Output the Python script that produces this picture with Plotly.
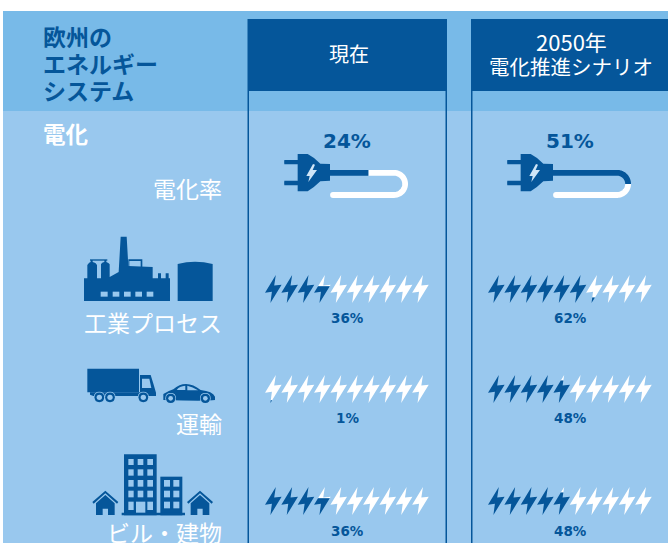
import math
import re
import plotly.graph_objects as go

# Chart content
header_title = ["欧州の", "エネルギー", "システム"]
section_title = "電化"
scenario_labels = [["現在"], ["2050年", "電化推進シナリオ"]]
electrification_rate = [24, 51]
sector_labels = ["工業プロセス", "運輸", "ビル・建物"]
sector_today = [36, 1, 36]
sector_2050 = [62, 48, 48]

# Palette
BAND = "#78bae8"
BODY = "#99c8ee"
DARK = "#05569a"
WHITE = "#ffffff"
PALE = "#cfe5f7"
CJK = "Noto Sans CJK JP"

W, H = 668, 543
COL_X = [248, 471.5]
COL_SHIFT = [-223.0, 0.0]
ROW_BOLT_TOP = [275, 375, 487]
ROW_PCT_Y = [318, 418, 531]
ROW_LABEL_Y = [321, 422, 531]
BOLT_X0 = [265, 488]
BOLT_PITCH = 16.35
BOLT_COUNT = 10

# One lightning bolt in its own unit box
BOLT = [(10.8, 0), (0, 17.8), (6.9, 16.8), (5.4, 28), (16.6, 9.8), (9.2, 10.6)]
BOLT_H = 28


def clip_below(poly, level):
    """Keep the part of a polygon lying at or below the given y level."""
    out = []
    for i, a in enumerate(poly):
        b = poly[(i + 1) % len(poly)]
        ina, inb = a[1] >= level, b[1] >= level
        if ina:
            out.append(a)
        if ina != inb:
            t = (level - a[1]) / (b[1] - a[1])
            out.append((a[0] + t * (b[0] - a[0]), level))
    return out


def clip_above(poly, level):
    flipped = [(x, -y) for x, y in poly]
    return [(x, -y) for x, y in clip_below(flipped, -level)]


def append_poly(xs, ys, poly, ox, oy):
    if len(poly) < 3:
        return
    for x, y in poly:
        xs.append(x + ox)
        ys.append(y + oy)
    xs.append(poly[0][0] + ox)
    ys.append(poly[0][1] + oy)
    xs.append(None)
    ys.append(None)


def bolt_row(pct, x0, top):
    """Ten bolts, each one tenth of the share, filling from the bottom up."""
    dx, dy, wx, wy = [], [], [], []
    for i in range(BOLT_COUNT):
        frac = max(0.0, min(1.0, pct / 10 - i))
        level = BOLT_H * (1 - frac)
        ox = x0 + i * BOLT_PITCH
        append_poly(dx, dy, clip_below(BOLT, level), ox, top)
        append_poly(wx, wy, clip_above(BOLT, level), ox, top)
    return dx, dy, wx, wy


fig = go.Figure()


def fill_trace(xs, ys, color):
    fig.add_trace(go.Scatter(x=xs, y=ys, mode="lines", fill="toself", fillcolor=color,
                             line=dict(width=0, color=color), hoverinfo="skip",
                             showlegend=False))


for col, values in enumerate([sector_today, sector_2050]):
    for row, pct in enumerate(values):
        dx, dy, wx, wy = bolt_row(pct, BOLT_X0[col], ROW_BOLT_TOP[row])
        fill_trace(wx, wy, WHITE)
        fill_trace(dx, dy, DARK)

# Power cable: straight run, half circle, straight run back
CABLE_X0, CABLE_X1, CABLE_END = 553.0, 617.0, 556.0
CABLE_TOP, CABLE_BOT = 172.8, 195.0
CABLE_R = (CABLE_BOT - CABLE_TOP) / 2
CABLE_STEPS = 240


def cable_point(s):
    run1 = CABLE_X1 - CABLE_X0
    arc = math.pi * CABLE_R
    if s <= run1:
        return CABLE_X0 + s, CABLE_TOP
    if s <= run1 + arc:
        a = (s - run1) / CABLE_R
        return CABLE_X1 + CABLE_R * math.sin(a), CABLE_TOP + CABLE_R * (1 - math.cos(a))
    return CABLE_X1 - (s - run1 - arc), CABLE_BOT


def cable_len():
    return (CABLE_X1 - CABLE_X0) + math.pi * CABLE_R + (CABLE_X1 - CABLE_END)


def cable_trace(xs, ys, color):
    fig.add_trace(go.Scatter(x=xs, y=ys, mode="lines",
                             line=dict(color=color, width=5.8, simplify=False),
                             hoverinfo="skip", showlegend=False))


for col, pct in enumerate(electrification_rate):
    total = cable_len()
    cut = total * pct / 100
    shift = COL_SHIFT[col]
    wx, wy, dx, dy = [], [], [], []
    for i in range(CABLE_STEPS + 1):
        x, y = cable_point(cut + (total - cut) * i / CABLE_STEPS)
        wx.append(x + shift)
        wy.append(y)
        x, y = cable_point(cut * i / CABLE_STEPS)
        dx.append(x + shift)
        dy.append(y)
    cable_trace(wx, wy, WHITE)
    cable_trace(dx, dy, DARK)
    # rounded tail of the cable
    fig.add_trace(go.Scatter(x=[wx[-1]], y=[wy[-1]], mode="markers",
                             marker=dict(color=WHITE, size=5.8, line=dict(width=0)),
                             hoverinfo="skip", showlegend=False))

shapes = []


def rect(x0, y0, x1, y1, color):
    shapes.append(dict(type="rect", xref="x", yref="y", x0=x0, y0=y0, x1=x1, y1=y1,
                       fillcolor=color, line=dict(width=0), layer="below"))


def icon(path, ox, oy, color=DARK, scale=1 / 3):
    """Place an icon path, drawn in a 3x grid, at a pixel offset."""
    out = []
    is_x = True
    for tok in re.findall(r"[A-Za-z]|-?\d+\.?\d*", path):
        if tok.isalpha():
            out.append(tok)
            is_x = True
        else:
            v = float(tok) * scale + (ox if is_x else oy)
            out.append(f"{v:.2f}")
            is_x = not is_x
    shapes.append(dict(type="path", xref="x", yref="y", path=" ".join(out),
                       fillcolor=color, line=dict(width=0), layer="above"))


def box(x0, y0, x1, y1):
    return f"M{x0} {y0} L{x1} {y0} L{x1} {y1} L{x0} {y1} Z"


def disc(cx, cy, r):
    return (f"M{cx - r} {cy} Q{cx - r} {cy - r} {cx} {cy - r} Q{cx + r} {cy - r} {cx + r} {cy} "
            f"Q{cx + r} {cy + r} {cx} {cy + r} Q{cx - r} {cy + r} {cx - r} {cy} Z")


# Background bands and scenario columns
rect(3, 11, W, 111, BAND)
rect(3, 111, W, H, BODY)
for x0, x1 in [(COL_X[0], 447), (COL_X[1], W + 2)]:
    rect(x0 - 0.5, 19, x1, 91, DARK)
    rect(x0 - 0.5, 91, x0 + 1, H, DARK)
    rect(x1 - 1.5, 91, x1, H, DARK)

# Plug, one per scenario column
PLUG = ("M520 480 L560 480 L560 462 L590 462 Q610 472 628 491 L657 492 L657 542 L628 544 "
        "Q610 562 590 574 L560 574 L560 556 L520 556 Q519 549 520 542 L560 542 L560 493 "
        "L520 493 Q519 486 520 480 Z")
PLUG_BOLT = "M606 492 L586 528 L596 528 L592 546 L618 510 L605 510 L612 494 Z"
for shift in COL_SHIFT:
    icon(PLUG, 334 + shift, 0)
    icon(PLUG_BOLT, 334 + shift, 0, PALE)

# Factory and storage tank
FX, FY = 60, 230
icon("M72 213 L72 145 L82 145 L82 105 Q88 96 92 96 L92 90 L98 90 L98 96 Q108 98 111 105 L111 145 "
     "L123 145 L123 102 Q128 96 133 96 L133 90 L139 90 L139 96 Q146 98 149 103 L149 141 L176 126 "
     "L182 20 L200 20 L205 108 L278 111 L278 145 L294 145 L294 130 L303 130 L303 145 L317 145 "
     "L317 130 L326 130 L326 145 L330 145 L330 213 Z", FX, FY)
icon("M90 88 L142 88 L142 92 L90 92 Z", FX, FY)
icon("M205 88 L247 88 L247 112 L242 112 L242 93 L208 93 L208 112 L205 112 Z", FX, FY)
for x0, x1 in [(122, 143), (158, 178), (192, 212), (226, 246), (260, 280)]:
    icon(box(x0, 185, x1, 200), FX, FY, BODY)
icon("M353 213 L353 102 Q405 88 458 102 L458 213 Z", FX, FY)

# Truck and car
TX, TY = 60, 360
icon(box(82, 26, 237, 97), TX, TY)
icon("M90 97 L240 97 L240 45 L272 45 Q280 70 288 98 L288 108 L100 108 L90 104 Z", TX, TY)
icon("M246 56 L268 56 L274 84 L246 84 Z", TX, TY, BODY)
for cx in [118, 150, 250]:
    icon(disc(cx, 112, 16.5), TX, TY, BODY)
    icon(disc(cx, 112, 14.5), TX, TY)
    icon(disc(cx, 112, 8), TX, TY, BODY)
icon("M310 120 L310 102 Q322 94 340 88 Q358 72 378 72 Q400 72 422 90 Q458 94 465 110 L465 120 "
     "Q440 124 310 120 Z", TX, TY)
icon("M350 90 Q358 78 376 77 L376 90 Z", TX, TY, BODY)
icon("M382 77 Q398 80 414 91 L382 91 Z", TX, TY, BODY)
for cx in [332, 436]:
    icon(disc(cx, 115, 16), TX, TY, BODY)
    icon(disc(cx, 115, 14), TX, TY)
    icon(disc(cx, 115, 7), TX, TY, BODY)

# Office towers and houses
icon(box(192, 283, 290, 466), TX, TY)
icon(box(301, 350, 367, 466), TX, TY)
icon(box(185, 458, 375, 466), TX, TY)
for cx0, cx1 in [(205, 221), (233, 250), (262, 279)]:
    for y0, y1 in [(297, 315), (328, 347), (360, 380), (392, 412)]:
        icon(box(cx0, y0, cx1, y1), TX, TY, BODY)
for cx0, cx1 in [(205, 221), (262, 279)]:
    icon(box(cx0, 425, cx1, 450), TX, TY, BODY)
icon(box(228, 425, 256, 458), TX, TY, BODY)
for cx0, cx1 in [(312, 330), (340, 358)]:
    for y0, y1 in [(360, 380), (392, 412), (425, 445)]:
        icon(box(cx0, y0, cx1, y1), TX, TY, BODY)
for cx in [136, 420]:
    icon(f"M{cx} 392 L{cx + 39} 426 L{cx + 35} 431 L{cx} 400 L{cx - 35} 431 L{cx - 39} 426 Z", TX, TY)
    icon(f"M{cx} 405 L{cx + 28} 430 L{cx + 28} 465 L{cx + 8} 465 L{cx + 8} 446 L{cx - 8} 446 "
         f"L{cx - 8} 465 L{cx - 28} 465 L{cx - 28} 430 Z", TX, TY)

annotations = []


def label(x, y, text, size, color, anchor="center", family=CJK, bold=False):
    body = f"<b>{text}</b>" if bold else text
    annotations.append(dict(x=x, y=y, xref="x", yref="y", text=body, showarrow=False,
                            xanchor=anchor, yanchor="middle", borderpad=0, height=size * 1.1,
                            valign="middle",
                            font=dict(family=family, size=size, color=color)))


for line, y in zip(header_title, [35, 62, 89]):
    label(41.5, y, line, 23, DARK, "left", bold=True)
label(41.5, 133, section_title, 22.5, WHITE, "left", bold=True)
label(223, 187, "電化率", 23, WHITE, "right")
for text, y in zip(sector_labels, ROW_LABEL_Y):
    label(223, y, text, 23, WHITE, "right")

label(348.5, 53, scenario_labels[0][0], 20, WHITE)
label(571, 40.5, scenario_labels[1][0], 22, WHITE)
label(571, 66, scenario_labels[1][1], 20.5, WHITE)

PCT_FONT = "DejaVu Sans"
for cx, pct in zip([347, 570], electrification_rate):
    label(cx, 141, f"{pct}%", 20, DARK, family=PCT_FONT, bold=True)
for cx, values in zip([347, 570], [sector_today, sector_2050]):
    for y, pct in zip(ROW_PCT_Y, values):
        label(cx, y, f"{pct}%", 13.5, DARK, family=PCT_FONT, bold=True)

fig.update_layout(
    width=W, height=H, margin=dict(l=0, r=0, t=0, b=0, pad=0),
    paper_bgcolor=WHITE, plot_bgcolor=WHITE, showlegend=False,
    xaxis=dict(range=[0, W], visible=False, fixedrange=True),
    yaxis=dict(range=[H, 0], visible=False, fixedrange=True),
    shapes=shapes, annotations=annotations,
)

fig.write_html("out.html", config={"displayModeBar": False})
